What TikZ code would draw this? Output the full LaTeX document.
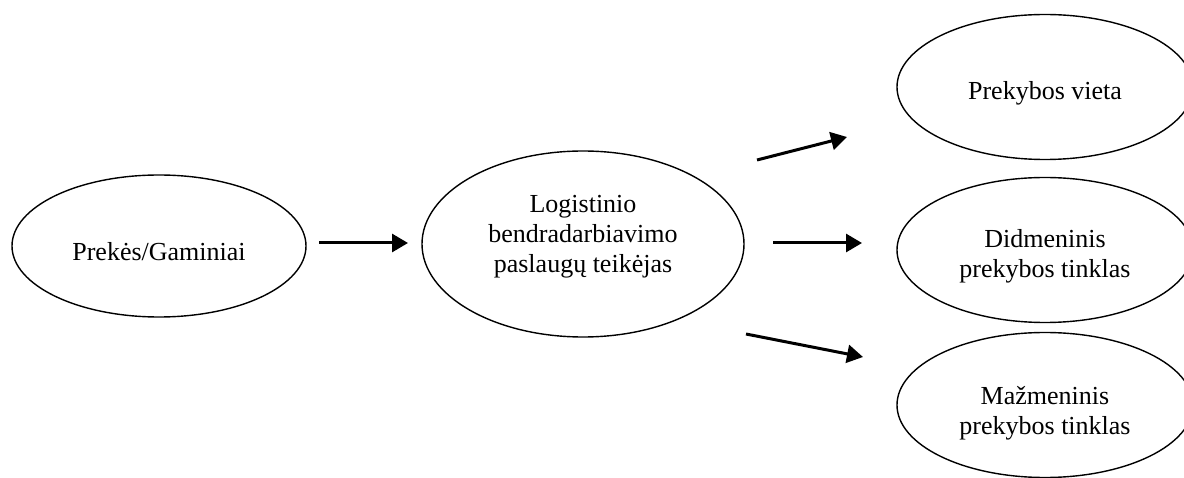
\documentclass[tikz,border=0pt]{standalone}
\usepackage{fontspec}
\setmainfont{Liberation Serif}
\usetikzlibrary{shapes.geometric,arrows.meta}
\begin{document}
\begin{tikzpicture}[x=1pt,y=1pt,
  oval/.style={ellipse,draw,line width=1.4pt,inner sep=0pt},
  caption/.style={align=center,inner sep=0pt,font=\fontsize{26}{30}\selectfont},
  flow/.style={line width=3pt,-{Triangle[length=16pt,width=18pt]}}]
\useasboundingbox (0,0) rectangle (1184,477);
\clip (0,0) rectangle (1184,477);
% source, service provider and the three outlets
\node[oval,minimum width=294pt,minimum height=142pt] (goods) at (159,231) {};
\node[oval,minimum width=322pt,minimum height=186pt] (provider) at (583,233) {};
\node[oval,minimum width=296pt,minimum height=145pt] (place) at (1045,390) {};
\node[oval,minimum width=296pt,minimum height=145pt] (wholesale) at (1045,227) {};
\node[oval,minimum width=296pt,minimum height=145pt] (retail) at (1045,72) {};
% their captions
\node[caption] (goods-t) at ([yshift=-6pt]goods.center) {Prekės/Gaminiai};
\node[caption] (provider-t) at ([yshift=7pt]provider.center)
  {Logistinio\\bendradarbiavimo\\paslaugų teikėjas};
\node[caption] (place-t) at ([yshift=-6pt]place.center) {Prekybos vieta};
\node[caption] (wholesale-t) at ([yshift=-6pt]wholesale.center)
  {Didmeninis\\prekybos tinklas};
\node[caption] (retail-t) at ([yshift=-8pt]retail.center)
  {Mažmeninis\\prekybos tinklas};
% free-standing arrows between the ovals
\coordinate (a1s) at (319,234);
\coordinate (a1e) at (408,234);
\coordinate (a2s) at (757,317);
\coordinate (a2e) at (847,340);
\coordinate (a3s) at (773,234);
\coordinate (a3e) at (862,234);
\coordinate (a4s) at (746,143);
\coordinate (a4e) at (863,120);
\draw[flow] (a1s) -- (a1e);
\draw[flow] (a2s) -- (a2e);
\draw[flow] (a3s) -- (a3e);
\draw[flow] (a4s) -- (a4e);
\end{tikzpicture}
\end{document}
